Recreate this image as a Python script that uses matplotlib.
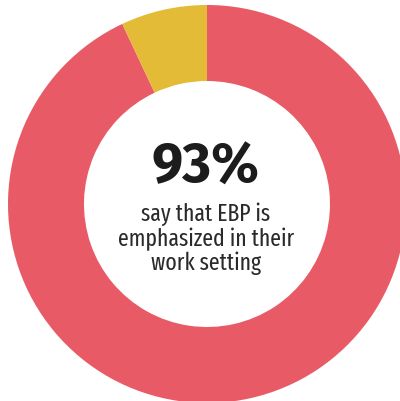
import matplotlib
matplotlib.use("Agg")
import matplotlib.pyplot as plt

labels = ["EBP emphasized", "Not emphasized"]
shares = [93, 7]
colors = ["#E85B66", "#E3BB36"]
headline = "93%"
caption = "say that EBP is\nemphasized in their\nwork setting"

W, H = 400, 402
fig = plt.figure(figsize=(W / 100, H / 100), dpi=100)
ax = fig.add_axes([0, 0, 1, 1])

ax.pie(shares, colors=colors, startangle=90, counterclock=False,
       radius=199, center=(207, H - 205),
       wedgeprops=dict(width=76, edgecolor="none"))
ax.set_xlim(0, W)
ax.set_ylim(0, H)
ax.set_aspect("equal")
ax.axis("off")

# condensed faces close to the original, with safe fallbacks
head_fam = ["Fira Sans", "Noto Sans", "DejaVu Sans"]
cap_fam = ["Fira Sans Extra Condensed", "Fira Sans Condensed", "Noto Sans", "DejaVu Sans"]
ax.text(205, H - 168, headline, ha="center", va="center", fontsize=40,
        fontweight="bold", color="#1c1c1c", family=head_fam)
ax.text(206, H - 239, caption, ha="center", va="center", fontsize=17,
        color="#2a2a2a", family=cap_fam, linespacing=1.05)

plt.savefig("out.png", dpi=100)
plt.close()
